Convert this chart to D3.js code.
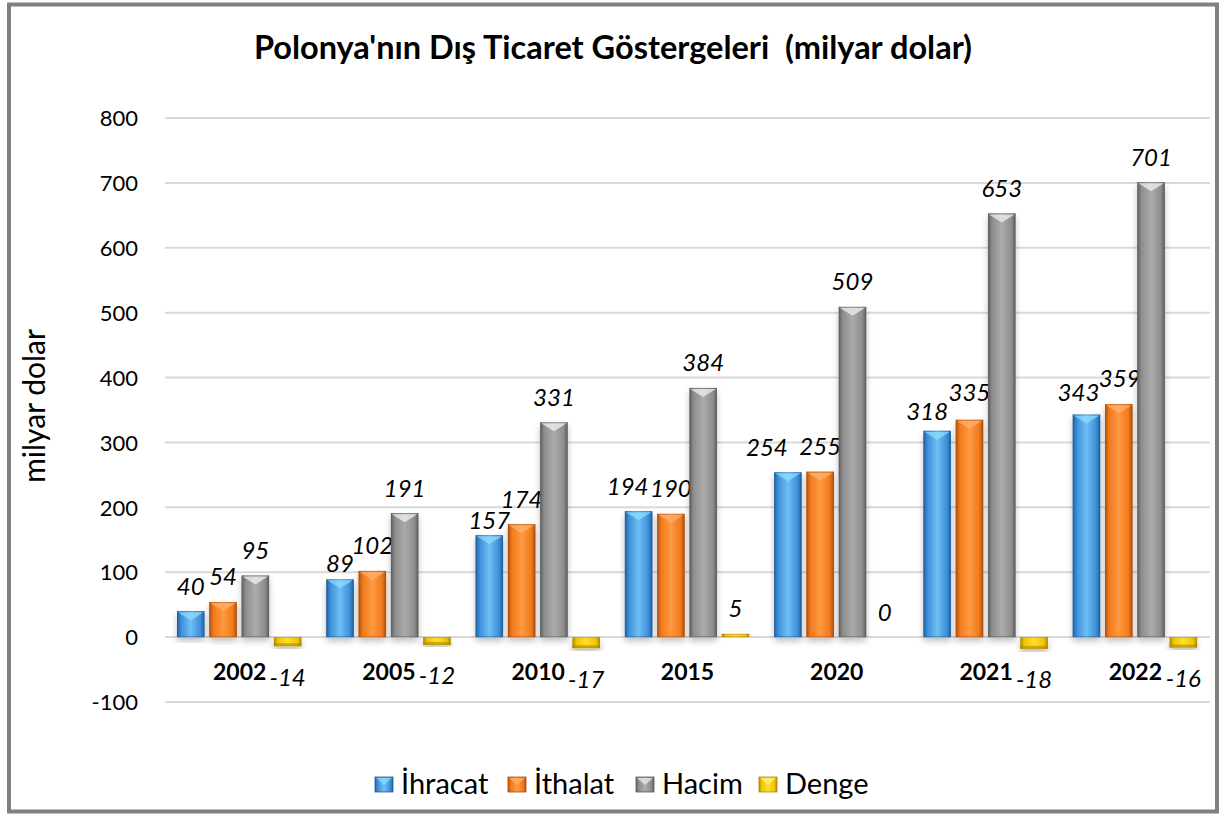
<!DOCTYPE html>
<html><head><meta charset="utf-8">
<script src="https://cdn.jsdelivr.net/npm/d3@7"></script>
<style>body{margin:0;background:#fff;}svg{display:block;font-family:Lato,"Open Sans",sans-serif;}</style>
</head><body><svg id="c" width="1219" height="814"></svg>
<script>
const years = ["2002","2005","2010","2015","2020","2021","2022"];
const seriesNames = ["İhracat","İthalat","Hacim","Denge"];
const ihracat = [40,89,157,194,254,318,343];
const ithalat = [54,102,174,190,255,335,359];
const hacim = [95,191,331,384,509,653,701];
const denge = [-14,-12,-17,5,0,-18,-16];
const yTicks = [-100,0,100,200,300,400,500,600,700,800];
const title = "Polonya'nın Dış Ticaret Göstergeleri  (milyar dolar)";
const yTitle = "milyar dolar";

const values = [ihracat, ithalat, hacim, denge];
const colors = [
  {base:"#3d8fd9", light:"#6fc0f5", dark:"#1f5f9e", bevel:"#8fdcff"},
  {base:"#f07a1c", light:"#ff9a40", dark:"#b04e08", bevel:"#ffb070"},
  {base:"#8e8e8e", light:"#ababab", dark:"#5e5e5e", bevel:"#f0f0f0"},
  {base:"#f2c500", light:"#ffe030", dark:"#b08a00", bevel:"#fff080"}
];
// label nudges (dx, dy) for crowded labels
const nudge = {"0-1":[0,9],"0-2":[0,10],"0-3":[-11,0],"0-4":[-21,0],"0-5":[-10,6],"0-6":[-8,3],"1-5":[0,-2],"1-6":[1,-1]};

const svg = d3.select("#c");
const defs = svg.append("defs");
colors.forEach((c,i)=>{
  const g = defs.append("linearGradient").attr("id","g"+i).attr("x1","0").attr("x2","1").attr("y1","0").attr("y2","0");
  g.append("stop").attr("offset","0").attr("stop-color",c.dark);
  g.append("stop").attr("offset","0.15").attr("stop-color",c.base);
  g.append("stop").attr("offset","0.5").attr("stop-color",c.light);
  g.append("stop").attr("offset","0.85").attr("stop-color",c.base);
  g.append("stop").attr("offset","1").attr("stop-color",c.dark);
});
const f = defs.append("filter").attr("id","sh").attr("x","-30%").attr("y","-10%").attr("width","160%").attr("height","130%");
f.append("feDropShadow").attr("dx",0).attr("dy",4).attr("stdDeviation",3).attr("flood-color","#000").attr("flood-opacity",0.25);

// frame
svg.append("rect").attr("x",9).attr("y",4.5).attr("width",1208).attr("height",807)
  .attr("fill","#fff").attr("stroke","#808080").attr("stroke-width",4);

const x0 = d3.scaleBand().domain(years).range([165,1210]).padding(0);
const x1 = d3.scaleBand().domain(d3.range(4)).range([12,136.4]).paddingInner(0.149);
const y = d3.scaleLinear().domain([-100,800]).range([702,118]);

// grid
svg.append("g").selectAll("line").data(yTicks).join("line")
  .attr("x1",165).attr("x2",1210).attr("y1",d=>y(d)).attr("y2",d=>y(d))
  .attr("stroke","#d9d9d9").attr("stroke-width",2);

// y axis
const yAxis = d3.axisLeft(y).tickValues(yTicks).tickSize(0).tickPadding(0).tickFormat(d=>String(d));
const ya = svg.append("g").attr("transform","translate(138,0)").call(yAxis);
ya.select(".domain").remove();
ya.selectAll("text").attr("font-family","Lato").attr("font-size",22).attr("fill","#000").attr("dy","0.35em");

// title
svg.append("text").attr("x",613).attr("y",59).attr("text-anchor","middle").style("white-space","pre")
  .attr("font-size",32.5).attr("font-weight","bold").text(title);
svg.append("text").attr("transform","translate(45,406) rotate(-90)").attr("text-anchor","middle")
  .attr("font-size",30).text(yTitle);

// bars
const bw = x1.bandwidth();
const groups = svg.append("g").selectAll("g").data(years).join("g")
  .attr("transform",d=>`translate(${x0(d)},0)`);
groups.each(function(yr,gi){
  const g = d3.select(this);
  for(let si=0;si<4;si++){
    const v = values[si][gi];
    const bx = x1(si);
    const top = y(Math.max(0,v)), bot = y(Math.min(0,v));
    const h = bot-top;
    if(h>0.1){
      g.append("rect").attr("x",bx).attr("y",top).attr("width",bw).attr("height",h)
        .attr("fill",`url(#g${si})`).attr("filter","url(#sh)");
      g.append("rect").attr("x",bx+0.5).attr("y",top+0.5).attr("width",bw-1).attr("height",Math.max(0,h-1))
        .attr("fill","none").attr("stroke",colors[si].dark).attr("stroke-opacity",0.5);
      if(v>0 && h>8){
        g.append("polygon").attr("points",`${bx+1},${top+1} ${bx+bw-1},${top+1} ${bx+bw/2},${top+9}`)
          .attr("fill",colors[si].bevel).attr("opacity",0.75);
      } else if(v<0){
        g.append("rect").attr("x",bx).attr("y",bot-3).attr("width",bw).attr("height",3).attr("fill",colors[si].dark).attr("opacity",0.6);
      }
    }
    const nd = nudge[si+"-"+gi] || [0,0];
    const ly = v>=0 ? y(v) - 25 : y(v) + 31;
    g.append("text").attr("x",bx+bw/2+nd[0]).attr("y",ly+nd[1]).attr("dy","0.35em")
      .attr("text-anchor","middle").attr("font-style","italic").attr("font-size",24).text(v);
  }
  g.append("text").attr("x",x0.bandwidth()/2).attr("y",672).attr("dy","0.35em")
    .attr("text-anchor","middle").attr("font-weight","bold").attr("font-size",23).text(yr);
});

// legend
const legX = [375,508,636,759];
const leg = svg.append("g");
seriesNames.forEach((n,i)=>{
  leg.append("rect").attr("x",legX[i]).attr("y",777).attr("width",18).attr("height",15).attr("fill",`url(#g${i})`)
    .attr("stroke",colors[i].dark).attr("stroke-width",0.8);
  leg.append("polygon").attr("points",`${legX[i]+1},${778} ${legX[i]+17},${778} ${legX[i]+9},${785}`).attr("fill",colors[i].bevel).attr("opacity",0.7);
  leg.append("text").attr("x",legX[i]+26).attr("y",784).attr("dy","0.35em").attr("font-size",29).text(n);
});
</script></body></html>
